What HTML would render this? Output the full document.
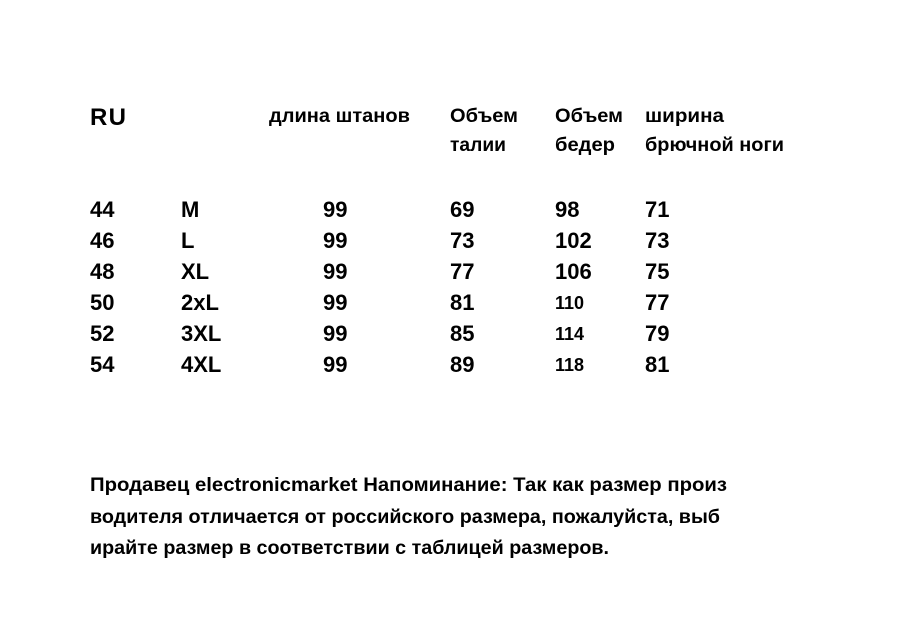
<!DOCTYPE html>
<html><head><meta charset="utf-8"><style>
html,body{margin:0;padding:0;background:#fff;}
svg{display:block;font-family:"Liberation Sans",sans-serif;font-weight:bold;fill:#000;}
</style></head><body>
<svg width="918" height="639" viewBox="0 0 918 639">
<rect width="918" height="639" fill="#fff"/>
<g font-size="19">
<text x="90" y="125" font-size="24" textLength="36">RU</text>
<text x="269" y="122" textLength="141" lengthAdjust="spacingAndGlyphs">длина штанов</text>
<text x="450" y="122" textLength="68" lengthAdjust="spacingAndGlyphs">Объем</text>
<text x="450" y="151" textLength="56" lengthAdjust="spacingAndGlyphs">талии</text>
<text x="555" y="122" textLength="68" lengthAdjust="spacingAndGlyphs">Объем</text>
<text x="555" y="151" textLength="60" lengthAdjust="spacingAndGlyphs">бедер</text>
<text x="645" y="122" textLength="79" lengthAdjust="spacingAndGlyphs">ширина</text>
<text x="645" y="151" textLength="139" lengthAdjust="spacingAndGlyphs">брючной ноги</text>
</g>
<g id="rows"></g>
<g font-size="19">
<text x="90" y="491" textLength="637" lengthAdjust="spacingAndGlyphs">Продавец electronicmarket Напоминание: Так как размер произ</text>
<text x="90" y="523" textLength="630" lengthAdjust="spacingAndGlyphs">водителя отличается от российского размера, пожалуйста, выб</text>
<text x="90" y="554" textLength="519" lengthAdjust="spacingAndGlyphs">ирайте размер в соответствии с таблицей размеров.</text>
</g>
</svg>
<script>
const ruSizes=["44","46","48","50","52","54"];
const intlSizes=["M","L","XL","2xL","3XL","4XL"];
const lengths=["99","99","99","99","99","99"];
const waist=["69","73","77","81","85","89"];
const hips=["98","102","106","110","114","118"];
const legWidth=["71","73","75","77","79","81"];
const g=document.getElementById('rows');
const ns='http://www.w3.org/2000/svg';
const cols=[[ruSizes,90,'ru-size'],[intlSizes,181,'intl-size'],[lengths,323,'length-value'],[waist,450,'waist-value'],[hips,555,'hips-value'],[legWidth,645,'leg-width-value']];
for(let i=0;i<ruSizes.length;i++){
  const y=217+i*31;
  cols.forEach(([arr,x,name])=>{
    const t=document.createElementNS(ns,'text');
    t.setAttribute('x',x);t.setAttribute('y',y);
    let fs=22;
    if(name==='hips-value'&&Number(arr[i])>=110){fs=18;t.setAttribute('y',y-1);}
    t.setAttribute('font-size',fs);
    t.textContent=arr[i];
    
    
    g.appendChild(t);
  });
}
</script>
</body></html>
